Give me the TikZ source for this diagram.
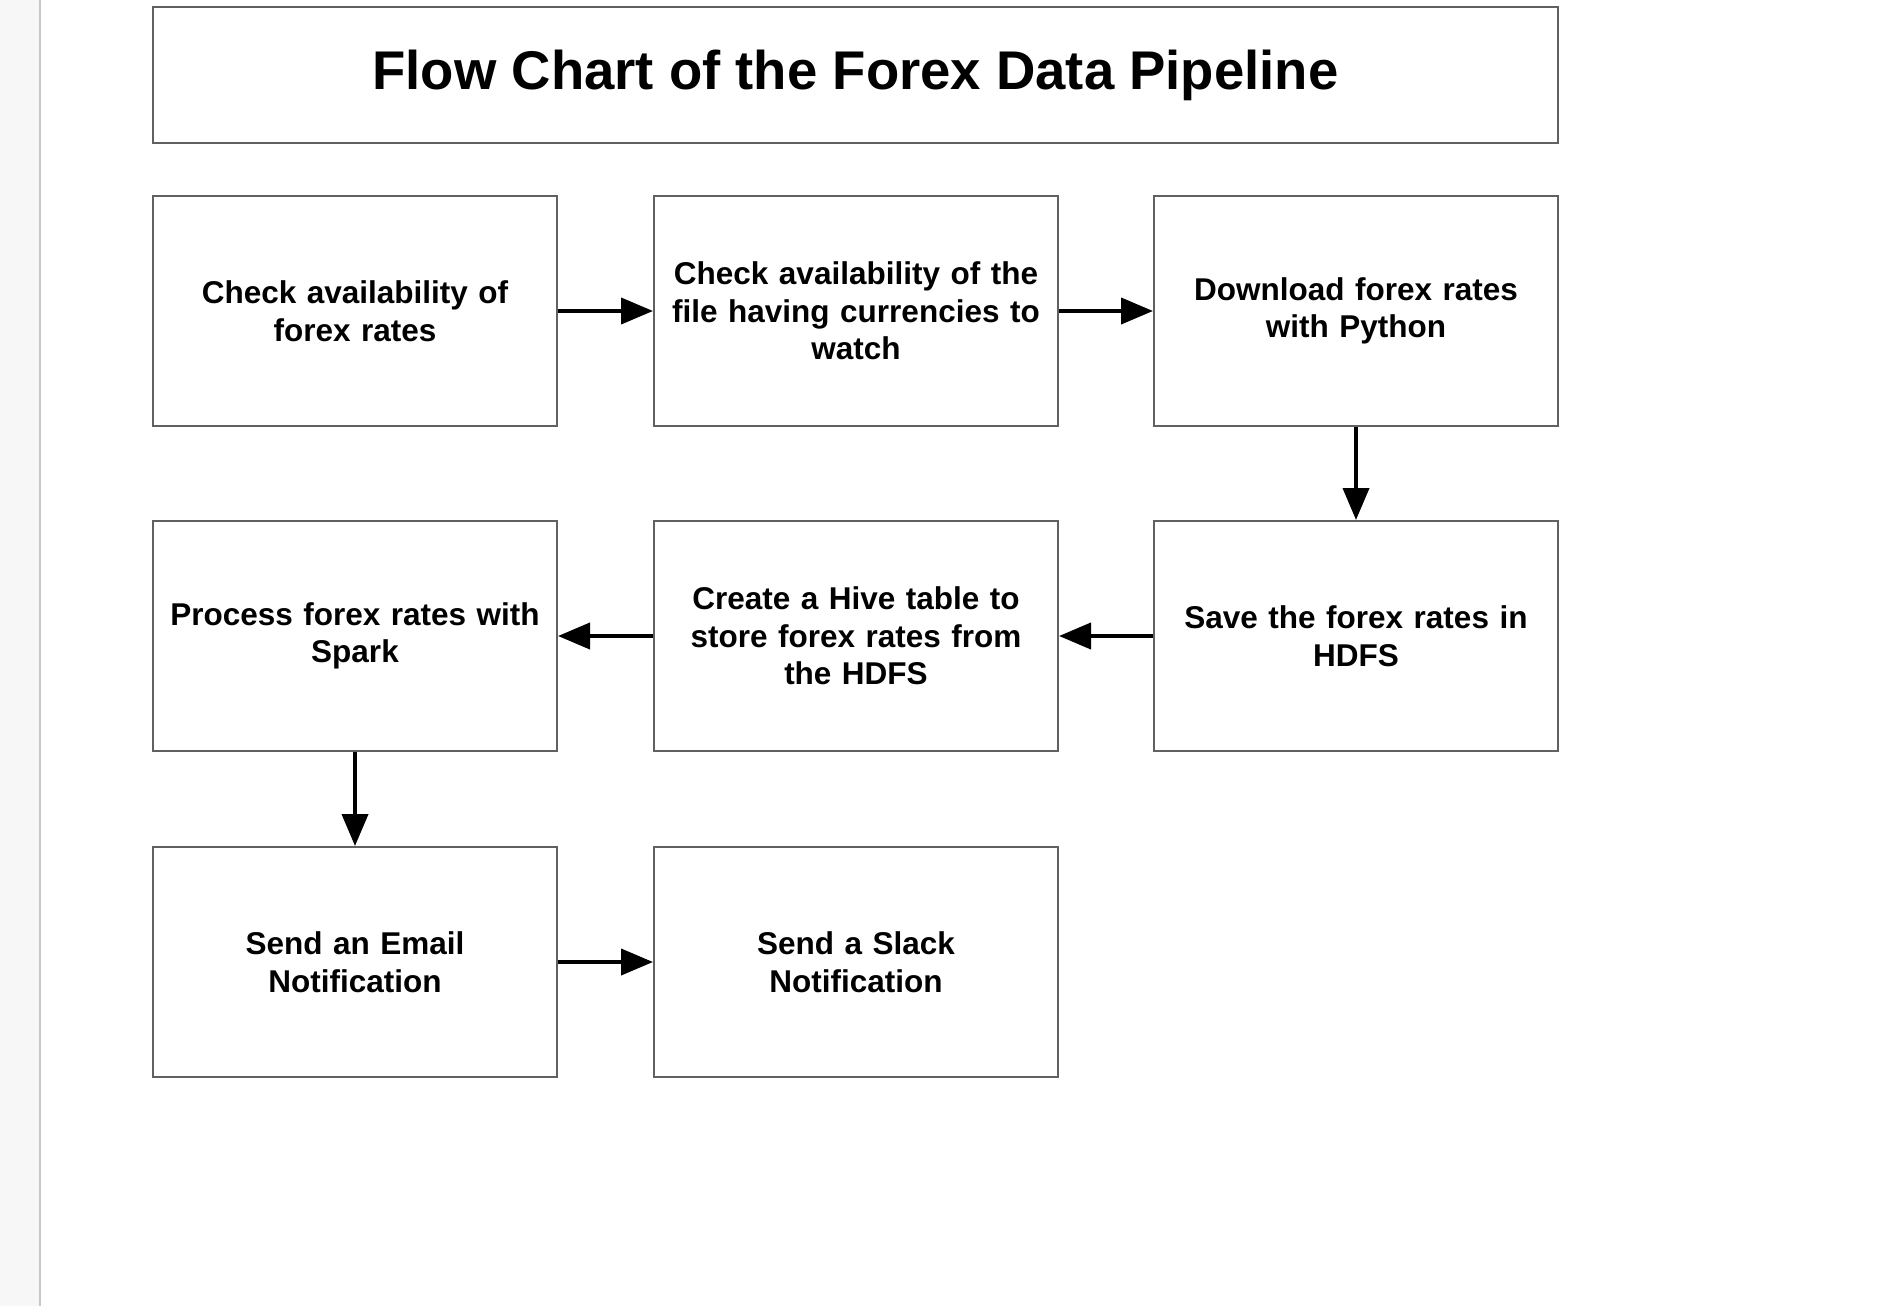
\documentclass[tikz,border=0pt]{standalone}
\usepackage{fontspec}
\setmainfont{Liberation Sans}
\usetikzlibrary{arrows.meta}
\tikzset{
  stepbox/.style={draw=black!62, line width=2pt, fill=white, minimum width=404pt, minimum height=230pt, text width=390pt, align=center, inner sep=0pt, font=\bfseries\fontsize{31.5}{37.5}\selectfont},
  titlebox/.style={draw=black!62, line width=2pt, fill=white, minimum width=1405pt, minimum height=136pt, inner sep=0pt, font=\bfseries\fontsize{54.5}{64}\selectfont},
  flowarrow/.style={line width=4pt, -{Triangle[length=32pt,width=26pt]}}
}
\begin{document}
\begin{tikzpicture}[x=1pt,y=-1pt]
\useasboundingbox (0,0) rectangle (1880,1306);
\fill[white] (0,0) rectangle (1880,1306);
\fill[black!3] (0,0) rectangle (39,1306);
\draw[black!22, line width=2pt] (40,0) -- (40,1306);

\node[titlebox] (title) at (855.5,75) {Flow Chart of the Forex Data Pipeline};

\node[stepbox] (b1) at (355,311) {Check availability of\\forex rates};
\node[stepbox] (b2) at (856,311) {Check availability of the\\file having currencies to\\watch};
\node[stepbox] (b3) at (1356,311) {Download forex rates\\with Python};
\node[stepbox] (b6) at (355,636) {Process forex rates with\\Spark};
\node[stepbox] (b5) at (856,636) {Create a Hive table to\\store forex rates from\\the HDFS};
\node[stepbox] (b4) at (1356,636) {Save the forex rates in\\HDFS};
\node[stepbox] (b7) at (355,962) {Send an Email\\Notification};
\node[stepbox] (b8) at (856,962) {Send a Slack\\Notification};

\draw[flowarrow] (b1) -- (b2);
\draw[flowarrow] (b2) -- (b3);
\draw[flowarrow] (b3) -- (b4);
\draw[flowarrow] (b4) -- (b5);
\draw[flowarrow] (b5) -- (b6);
\draw[flowarrow] (b6) -- (b7);
\draw[flowarrow] (b7) -- (b8);
\end{tikzpicture}
\end{document}
